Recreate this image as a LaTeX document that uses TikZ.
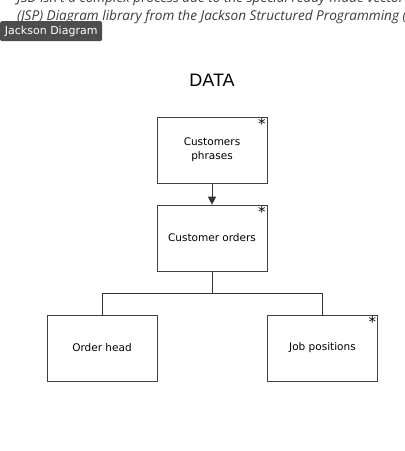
\documentclass[tikz,border=0pt]{standalone}
\usepackage{fontspec}
\setmainfont{DejaVu Sans}
\newfontfamily\pagefont{Open Sans}
\newfontfamily\titlefont{Liberation Sans}
\usetikzlibrary{arrows.meta}
\definecolor{tagdark}{RGB}{77,77,77}
\definecolor{pagetext}{RGB}{60,60,60}
\tikzset{
    jbox/.style={draw=black!75, line width=0.6pt, rectangle, minimum width=110pt, minimum height=66pt, align=center, font=\fontsize{10.5}{14}\selectfont},
    star/.style={anchor=north east, inner sep=1.5pt, font=\fontsize{15}{15}\selectfont},
    pageline/.style={anchor=base west, inner sep=0pt, text=pagetext, font=\pagefont\itshape\fontsize{13.6}{14}\selectfont},
    link/.style={draw=black!80, line width=0.7pt}
}
\begin{document}
\begin{tikzpicture}[x=1pt, y=-1pt]
    \clip (0,0) rectangle (405,451);
    \useasboundingbox (0,0) rectangle (405,451);
    % Page text behind the diagram
    \node[pageline] (line1) at (17,2) {JSD isn't a complex process due to the special ready-made vector};
    \node[pageline] (line2) at (17,20) {(JSP) Diagram library from the Jackson Structured Programming (};
    \node[fill=tagdark, rounded corners=1.5pt, text=white, anchor=north west, minimum width=102pt, minimum height=20pt, inner sep=0pt, font=\fontsize{11}{11}\selectfont] (tag) at (0,21) {Jackson Diagram};

    % Title
    \node[font=\titlefont\fontsize{18}{18}\selectfont] (title) at (212,80) {DATA};

    % Boxes
    \node[jbox] (phrases) at (212,150) {Customers\\phrases};
    \node[jbox] (orders) at (212,238) {Customer orders};
    \node[jbox] (head) at (102,348) {Order head};
    \node[jbox] (jobs) at (322.5,348) {Job positions};

    % Iteration marks
    \node[star] (s1) at (phrases.north east) {*};
    \node[star] (s2) at (orders.north east) {*};
    \node[star] (s3) at (jobs.north east) {*};

    % Connections
    \draw[link, -{Triangle[length=8pt, width=8pt]}] (phrases) -- (orders);
    \coordinate (split) at (212,293);
    \draw[link] (orders.south) -- (split);
    \draw[link] (split) -| (head.north);
    \draw[link] (split) -| (jobs.north);
\end{tikzpicture}
\end{document}
